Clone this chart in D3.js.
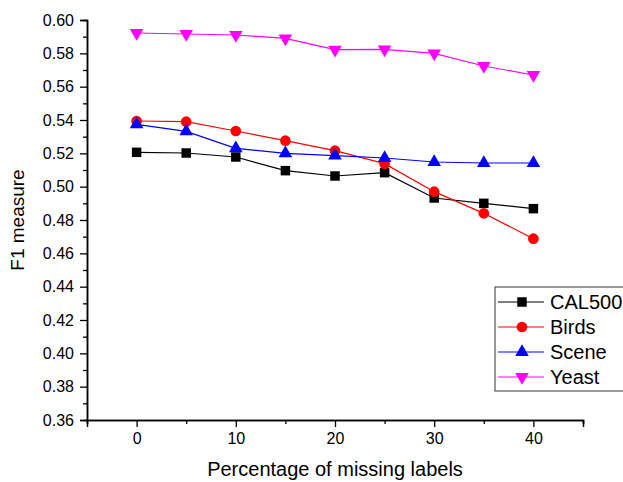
<!DOCTYPE html>
<html>
<head>
<meta charset="utf-8">
<script src="https://cdn.jsdelivr.net/npm/d3@7"></script>
<style>
  body { margin: 0; background: #fff; }
  text { font-family: Arial, "Liberation Sans", sans-serif; fill: #000; }
</style>
</head>
<body>
<div id="chart"></div>
<script>
// missing label percentages
var missing = [0, 5, 10, 15, 20, 25, 30, 35, 40];

var cal500 = [0.5206, 0.5202, 0.5178, 0.5096, 0.5064, 0.5084, 0.4932, 0.4900, 0.4868];
var birds  = [0.5394, 0.5390, 0.5334, 0.5276, 0.5216, 0.5138, 0.4970, 0.4840, 0.4688];
var scene  = [0.5374, 0.5332, 0.5230, 0.5200, 0.5186, 0.5172, 0.5148, 0.5142, 0.5142];
var yeast  = [0.5922, 0.5916, 0.5910, 0.5890, 0.5822, 0.5824, 0.5800, 0.5724, 0.5670];

var seriesNames = ['CAL500', 'Birds', 'Scene', 'Yeast'];
var xTicks = [0, 10, 20, 30, 40];
var yTicks = [0.36, 0.38, 0.40, 0.42, 0.44, 0.46, 0.48, 0.50, 0.52, 0.54, 0.56, 0.58, 0.60];

var width = 623, height = 482;
var margin = {left: 87, top: 20, right: 40, bottom: 62};

var series = [
  {name: seriesNames[0], values: cal500, color: '#000000', symbol: d3.symbolSquare, size: 90, rot: 0},
  {name: seriesNames[1], values: birds, color: '#ff0000', symbol: d3.symbolCircle, size: 90, rot: 0},
  {name: seriesNames[2], values: scene, color: '#0000ff', symbol: d3.symbolTriangle, size: 80, rot: 0},
  {name: seriesNames[3], values: yeast, color: '#ff00ff', symbol: d3.symbolTriangle, size: 80, rot: 180}
];

var svg = d3.select('#chart').append('svg')
    .attr('width', width)
    .attr('height', height);

var x = d3.scaleLinear().domain([-5, 45]).range([margin.left, width - margin.right]);
var y = d3.scaleLinear().domain([0.36, 0.60]).range([height - margin.bottom, margin.top]);

// minor ticks first, then the major axis
var xMinor = d3.axisBottom(x).tickValues(d3.range(-5, 46, 10)).tickSize(4).tickFormat('');
var yMinor = d3.axisLeft(y).tickValues(d3.range(0.37, 0.60, 0.02)).tickSize(4).tickFormat('');

svg.append('g').attr('transform', 'translate(0,' + y(0.36) + ')').call(xMinor);
svg.append('g').attr('transform', 'translate(' + x(-5) + ',0)').call(yMinor);

var xAxis = svg.append('g')
    .attr('transform', 'translate(0,' + y(0.36) + ')')
    .call(d3.axisBottom(x).tickValues(xTicks).tickSize(7).tickPadding(6).tickFormat(d3.format('d')));

var yAxis = svg.append('g')
    .attr('transform', 'translate(' + x(-5) + ',0)')
    .call(d3.axisLeft(y).tickValues(yTicks).tickSize(7).tickPadding(6).tickFormat(d3.format('.2f')));

svg.selectAll('.domain').attr('stroke', '#000').attr('stroke-width', 1.5);
svg.selectAll('.tick line').attr('stroke', '#000').attr('stroke-width', 1.3);
svg.selectAll('.tick text').style('font-size', '16px').attr('fill', '#000');

// axis titles
svg.append('text')
    .attr('x', (x(-5) + x(45)) / 2)
    .attr('y', 476)
    .attr('text-anchor', 'middle')
    .style('font-size', '20px')
    .text('Percentage of missing labels');

svg.append('text')
    .attr('transform', 'translate(24,' + (y(0.48)) + ') rotate(-90)')
    .attr('text-anchor', 'middle')
    .style('font-size', '19px')
    .text('F1 measure');

var line = d3.line()
    .x(function (d, i) { return x(missing[i]); })
    .y(function (d) { return y(d); });

series.forEach(function (s) {
  svg.append('path')
      .datum(s.values)
      .attr('fill', 'none')
      .attr('stroke', s.color)
      .attr('stroke-width', 1.2)
      .attr('d', line);

  svg.selectAll(null)
      .data(s.values)
      .enter().append('path')
      .attr('d', d3.symbol().type(s.symbol).size(s.size))
      .attr('fill', s.color)
      .attr('transform', function (d, i) {
        return 'translate(' + x(missing[i]) + ',' + y(d) + ') rotate(' + s.rot + ')';
      });
});

// legend
var legend = svg.append('g').attr('transform', 'translate(495,287)');
legend.append('rect')
    .attr('width', 140).attr('height', 104)
    .attr('fill', '#fff')
    .attr('stroke', '#333')
    .attr('stroke-width', 1);

series.forEach(function (s, i) {
  var row = legend.append('g').attr('transform', 'translate(0,' + (15 + i * 25) + ')');
  row.append('line')
      .attr('x1', 3).attr('x2', 49)
      .attr('stroke', s.color).attr('stroke-width', 1.2);
  row.append('path')
      .attr('d', d3.symbol().type(s.symbol).size(s.size))
      .attr('fill', s.color)
      .attr('transform', 'translate(27,0) rotate(' + s.rot + ')');
  row.append('text')
      .attr('x', 55).attr('y', 7)
      .style('font-size', '20px')
      .text(s.name);
});
</script>
</body>
</html>
